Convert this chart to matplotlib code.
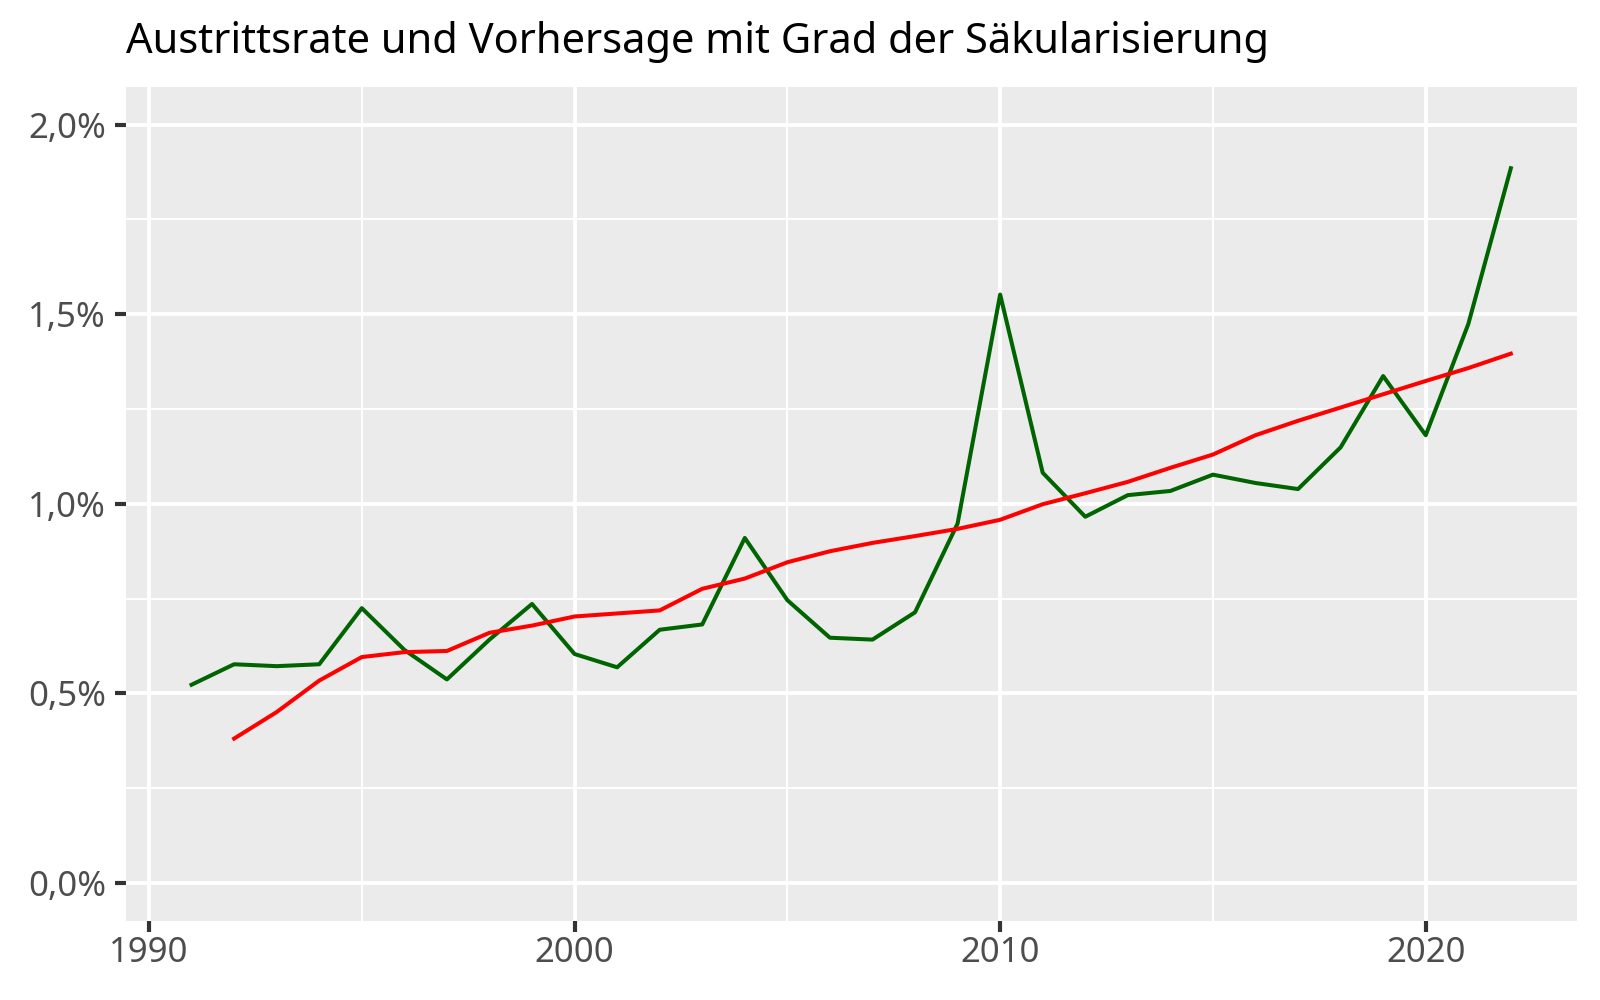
import numpy as np
import matplotlib
matplotlib.use("Agg")
import matplotlib.pyplot as plt
from matplotlib.ticker import FuncFormatter, MultipleLocator

plt.rcParams['font.family'] = ['Noto Sans', 'DejaVu Sans']

# Austrittsrate (tatsaechlich), Anteil in Prozent
years = list(range(1991, 2023))
rate = [0.523, 0.577, 0.572, 0.577, 0.725, 0.615, 0.537, 0.642, 0.736, 0.604,
        0.569, 0.668, 0.682, 0.910, 0.746, 0.647, 0.642, 0.714, 0.948, 1.552,
        1.082, 0.966, 1.023, 1.034, 1.077, 1.055, 1.039, 1.149, 1.337, 1.181,
        1.474, 1.885]

# Vorhersage mit Grad der Saekularisierung (ab 1992)
pred_years = list(range(1992, 2023))
pred = [0.381, 0.451, 0.534, 0.596, 0.609, 0.612, 0.660, 0.679, 0.703, 0.711,
        0.719, 0.776, 0.803, 0.846, 0.875, 0.897, 0.915, 0.934, 0.958, 0.999,
        1.028, 1.058, 1.095, 1.130, 1.181, 1.219, 1.254, 1.289, 1.324, 1.358,
        1.396]

fig = plt.figure(figsize=(16, 10), dpi=100)
ax = fig.add_axes([0.0785, 0.079, 0.907, 0.8343])
ax.set_facecolor("#EBEBEB")
for s in ax.spines.values():
    s.set_visible(False)

ax.plot(years, rate, color="#006400", lw=2.9, zorder=3)
ax.plot(pred_years, pred, color="#FF0000", lw=2.9, zorder=3)

ax.set_xlim(1989.45, 2023.55)
ax.set_ylim(-0.1, 2.1)

ax.xaxis.set_major_locator(MultipleLocator(10))
ax.xaxis.set_minor_locator(MultipleLocator(5))
ax.yaxis.set_major_locator(MultipleLocator(0.5))
ax.yaxis.set_minor_locator(MultipleLocator(0.25))
ax.yaxis.set_major_formatter(FuncFormatter(lambda v, p: f"{v:.1f}%".replace(".", ",")))

ax.grid(which="major", color="white", lw=2.8)
ax.grid(which="minor", color="white", lw=1.4)
ax.set_axisbelow(True)

ax.tick_params(which="major", length=8, width=3, color="#333333",
               labelcolor="#4D4D4D", labelsize=25)
ax.tick_params(axis="x", which="major", pad=3)
ax.tick_params(axis="y", which="major", pad=6)
ax.tick_params(which="minor", length=0)

fig.text(0.0785, 0.947, "Austrittsrate und Vorhersage mit Grad der Säkularisierung",
         fontsize=30, color="black", ha="left", va="baseline")

fig.savefig("out.png", dpi=100)
